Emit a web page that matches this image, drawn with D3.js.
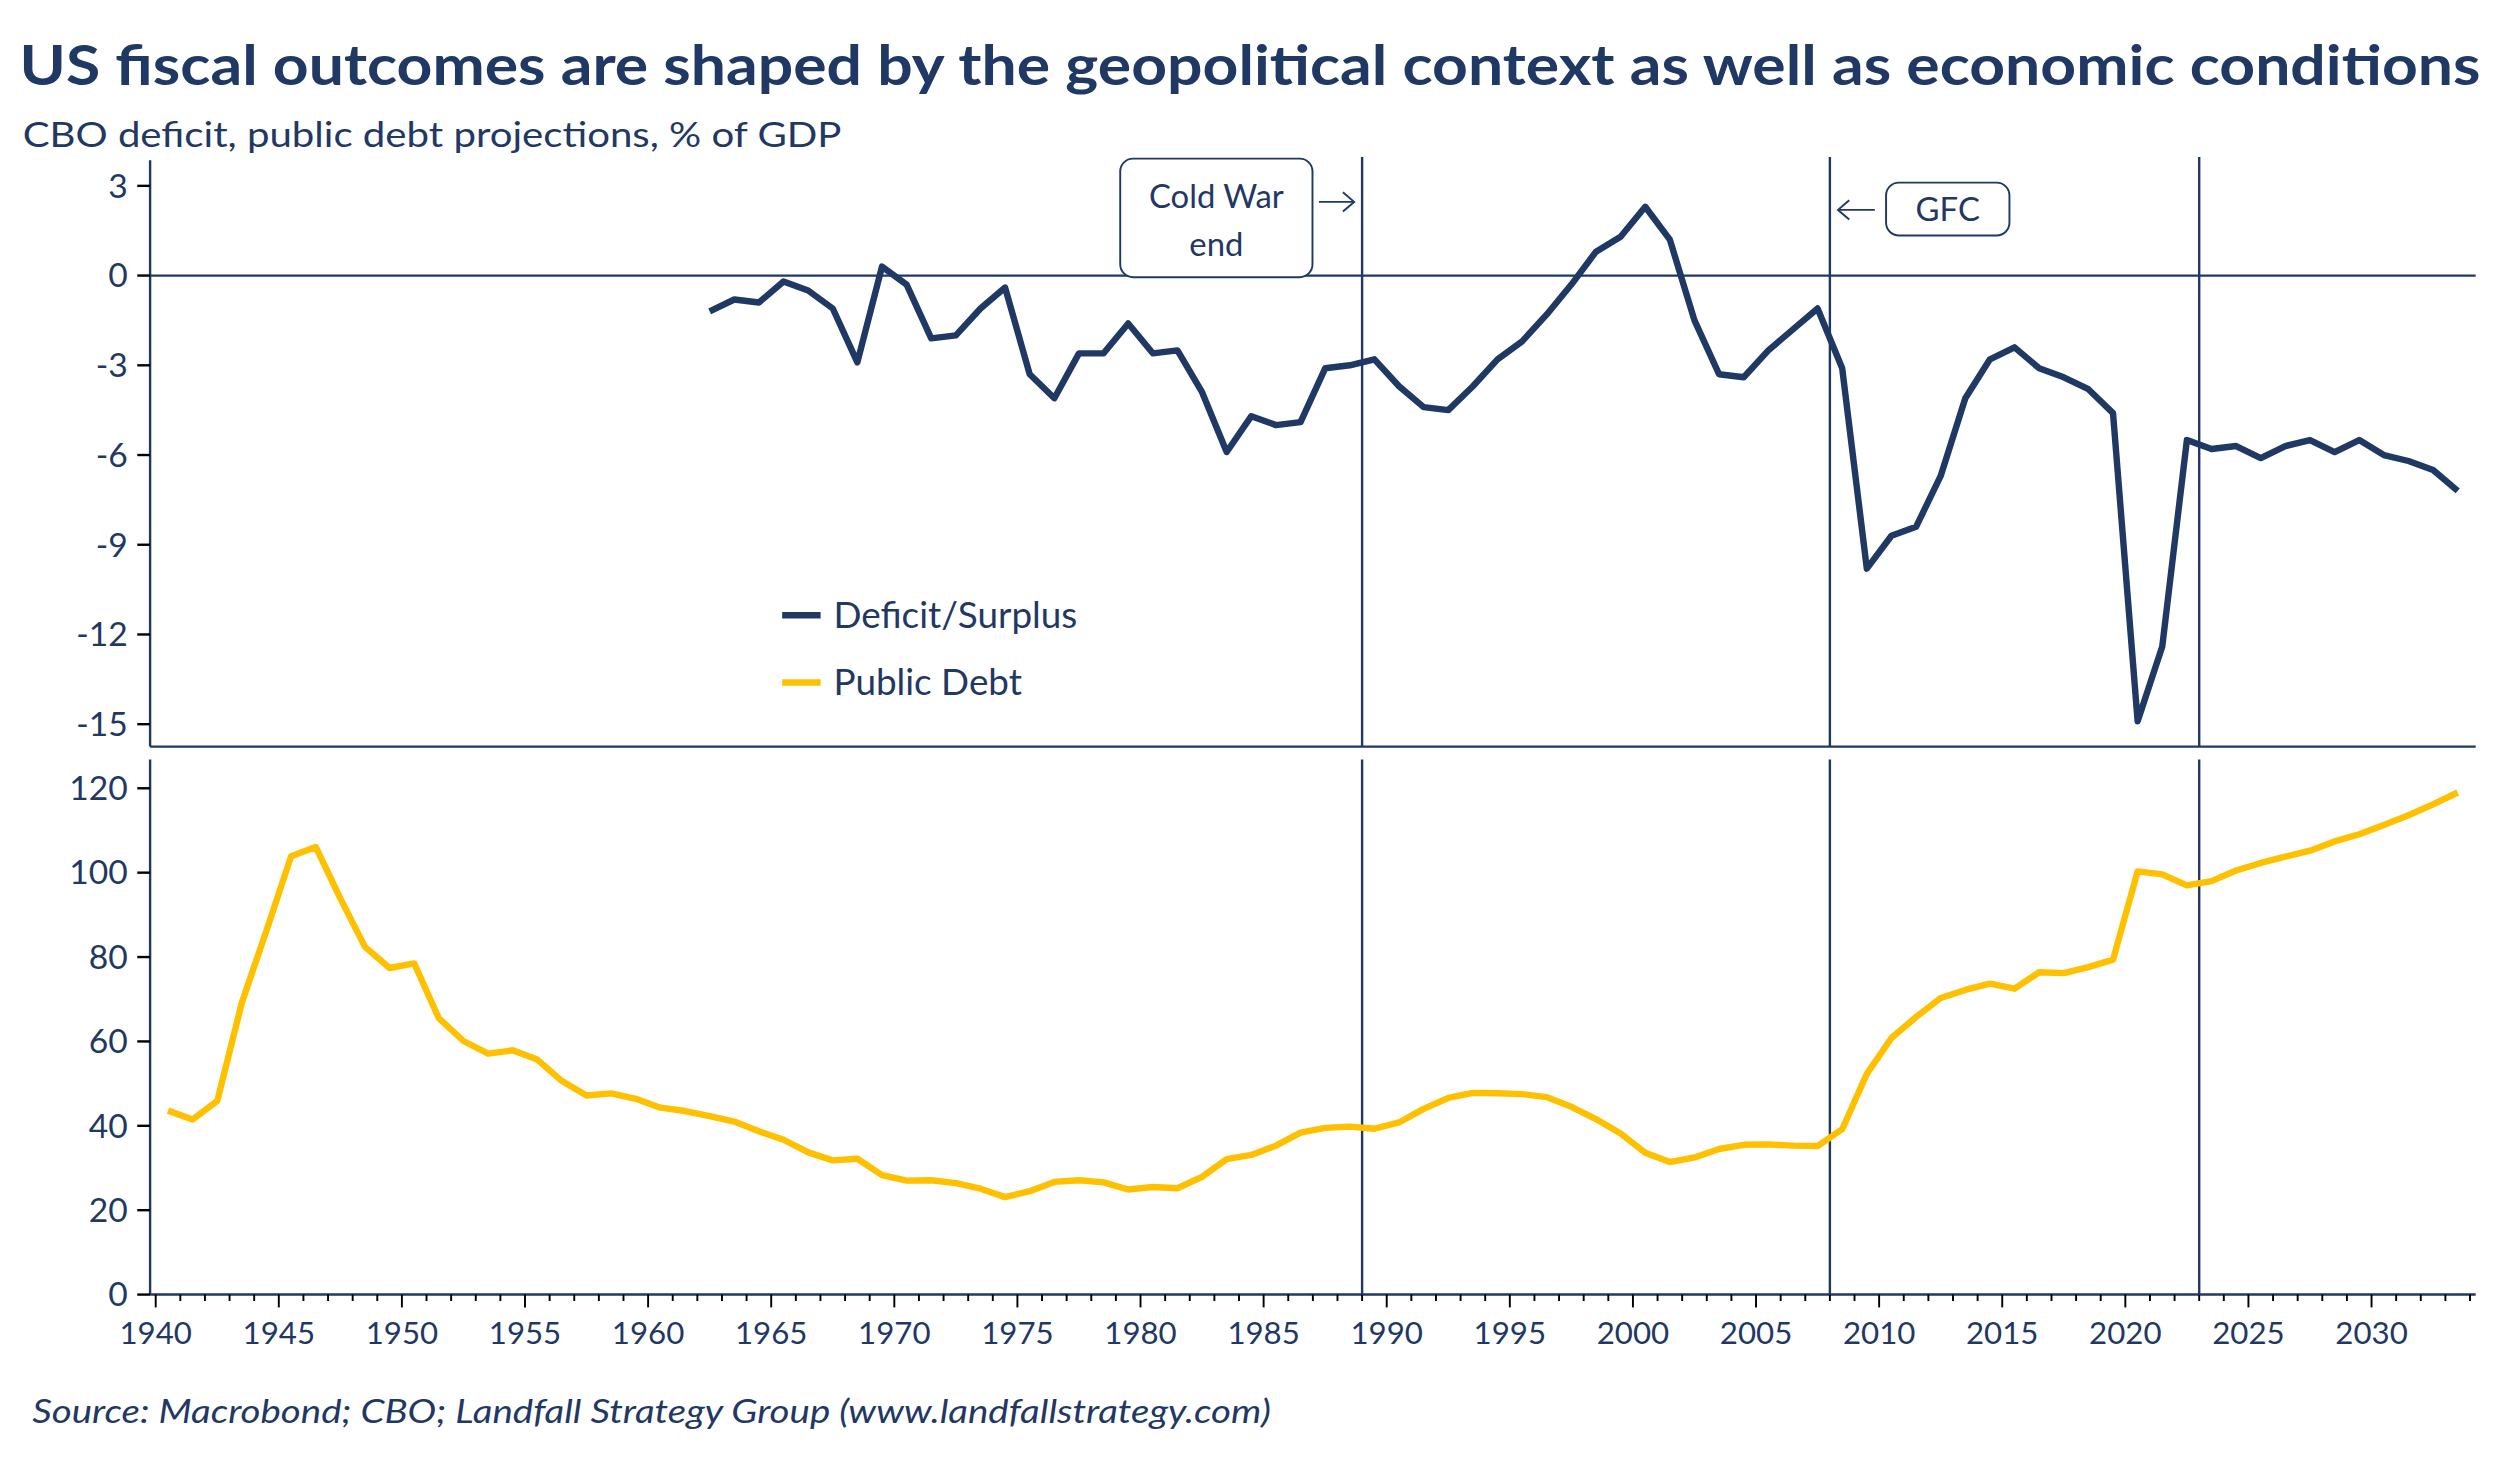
<!DOCTYPE html>
<html><head><meta charset="utf-8">
<script src="https://cdn.jsdelivr.net/npm/d3@7"></script>
<style>body{margin:0;background:#fff}svg{display:block}</style>
</head><body><svg id="c" width="2500" height="1458" viewBox="0 0 1560 910"></svg>
<script>
const deficitYears = d3.range(1962, 2034);
const deficit = [-1.2,-0.8,-0.9,-0.2,-0.5,-1.1,-2.9,0.3,-0.3,-2.1,-2.0,-1.1,-0.4,-3.3,-4.1,-2.6,-2.6,-1.6,-2.6,-2.5,-3.9,-5.9,-4.7,-5.0,-4.9,-3.1,-3.0,-2.8,-3.7,-4.4,-4.5,-3.7,-2.8,-2.2,-1.3,-0.3,0.8,1.3,2.3,1.2,-1.5,-3.3,-3.4,-2.5,-1.8,-1.1,-3.1,-9.8,-8.7,-8.4,-6.7,-4.1,-2.8,-2.4,-3.1,-3.4,-3.8,-4.6,-14.9,-12.4,-5.5,-5.8,-5.7,-6.1,-5.7,-5.5,-5.9,-5.5,-6.0,-6.2,-6.5,-7.2];
const debtYears = d3.range(1940, 2034);
const debt = [43.6,41.5,45.9,69.2,86.3,103.9,106.1,93.9,82.4,77.4,78.5,65.5,60.1,57.1,57.9,55.7,50.6,47.2,47.7,46.4,44.3,43.5,42.3,41.0,38.7,36.7,33.7,31.8,32.2,28.3,27.0,27.1,26.4,25.1,23.1,24.5,26.7,27.1,26.6,24.9,25.5,25.2,27.9,32.1,33.1,35.3,38.4,39.5,39.8,39.3,40.8,44.0,46.6,47.8,47.7,47.5,46.8,44.5,41.6,38.2,33.6,31.4,32.5,34.5,35.5,35.6,35.3,35.2,39.2,52.3,60.8,65.8,70.3,72.2,73.7,72.5,76.4,76.2,77.6,79.4,100.3,99.6,97.0,98.0,100.5,102.3,103.8,105.2,107.4,109.1,111.3,113.6,116.2,119.0];
const topTicks = [3,0,-3,-6,-9,-12,-15];
const botTicks = [0,20,40,60,80,100,120];
const xTicks = d3.range(1940, 2031, 5);
const eventYears = [1989, 2008, 2023];

const navy = "#1f3864", gold = "#ffc000", font = "Lato, sans-serif";
const svg = d3.select("#c").style("font-family", font);
const L = 93.5, R = 1545;
const x = d3.scaleLinear().domain([1940, 2030]).range([97, 1480]);
const yT = d3.scaleLinear().domain([3, -15]).range([116, 452]);
const yB = d3.scaleLinear().domain([0, 120]).range([808, 492]);

svg.append("text").attr("x", 12).attr("y", 53).attr("font-size", 34).attr("font-weight", 700).attr("fill", navy)
  .attr("textLength", 1536).attr("lengthAdjust", "spacingAndGlyphs")
  .text("US fiscal outcomes are shaped by the geopolitical context as well as economic conditions");
svg.append("text").attr("x", 14).attr("y", 92).attr("font-size", 22).attr("fill", navy)
  .attr("textLength", 511).attr("lengthAdjust", "spacingAndGlyphs")
  .text("CBO deficit, public debt projections, % of GDP");

function yAxis(scale, ticks, y0, y1) {
  const g = svg.append("g").attr("transform", `translate(${L},0)`);
  g.append("line").attr("x1", 0).attr("x2", 0).attr("y1", y0).attr("y2", y1).attr("stroke", navy).attr("stroke-width", 1.5);
  ticks.forEach(t => {
    g.append("line").attr("x1", -8).attr("x2", 0).attr("y1", scale(t)).attr("y2", scale(t)).attr("stroke", "#000").attr("stroke-width", 1.5);
    g.append("text").attr("x", -14).attr("y", scale(t)).attr("dy", "0.35em").attr("text-anchor", "end")
      .attr("font-size", 21).attr("fill", navy).text(t);
  });
}
yAxis(yT, topTicks, 100, 466);
yAxis(yB, botTicks, 474, 808);
svg.append("line").attr("x1", L).attr("x2", R).attr("y1", 466).attr("y2", 466).attr("stroke", navy).attr("stroke-width", 1.5);
svg.append("line").attr("x1", L).attr("x2", R).attr("y1", yT(0)).attr("y2", yT(0)).attr("stroke", navy).attr("stroke-width", 1.5);
svg.append("line").attr("x1", L).attr("x2", R).attr("y1", 808).attr("y2", 808).attr("stroke", navy).attr("stroke-width", 1.5);

d3.range(1940, 2035).forEach(yr => {
  const major = yr % 5 === 0;
  svg.append("line").attr("x1", x(yr)).attr("x2", x(yr)).attr("y1", 808).attr("y2", major ? 816 : 812).attr("stroke", "#000").attr("stroke-width", 1.2);
});
xTicks.forEach(t => svg.append("text").attr("x", x(t)).attr("y", 839).attr("text-anchor", "middle").attr("font-size", 19.5).attr("fill", navy).text(t));

eventYears.forEach(yr => {
  svg.append("line").attr("x1", x(yr)).attr("x2", x(yr)).attr("y1", 98).attr("y2", 466).attr("stroke", navy).attr("stroke-width", 1.5);
  svg.append("line").attr("x1", x(yr)).attr("x2", x(yr)).attr("y1", 474).attr("y2", 808).attr("stroke", navy).attr("stroke-width", 1.5);
});

const lnT = d3.line().x((d, i) => x(deficitYears[i] + 0.5)).y(d => yT(d));
const lnB = d3.line().x((d, i) => x(debtYears[i] + 0.5)).y(d => yB(d));
svg.append("path").attr("d", lnT(deficit)).attr("fill", "none").attr("stroke", navy).attr("stroke-width", 4).attr("stroke-linejoin", "round");
svg.append("path").attr("d", lnB(debt)).attr("fill", "none").attr("stroke", gold).attr("stroke-width", 4).attr("stroke-linejoin", "round");

svg.append("rect").attr("x", 699).attr("y", 99).attr("width", 120).attr("height", 74).attr("rx", 8).attr("fill", "#fff").attr("stroke", navy).attr("stroke-width", 1.2);
svg.append("text").attr("x", 759).attr("y", 130).attr("text-anchor", "middle").attr("font-size", 20.5).attr("fill", navy).text("Cold War");
svg.append("text").attr("x", 759).attr("y", 160).attr("text-anchor", "middle").attr("font-size", 20.5).attr("fill", navy).text("end");
svg.append("rect").attr("x", 1177).attr("y", 114).attr("width", 77).attr("height", 33).attr("rx", 8).attr("fill", "#fff").attr("stroke", navy).attr("stroke-width", 1.2);
svg.append("text").attr("x", 1215.5).attr("y", 138).attr("text-anchor", "middle").attr("font-size", 20.5).attr("fill", navy).text("GFC");
function arrow(x1, x2, y) {
  svg.append("line").attr("x1", x1).attr("x2", x2).attr("y1", y).attr("y2", y).attr("stroke", navy).attr("stroke-width", 1.2);
  const d = x2 > x1 ? -7 : 7;
  svg.append("path").attr("d", `M${x2 + d},${y - 6}L${x2},${y}L${x2 + d},${y + 6}`).attr("fill", "none").attr("stroke", navy).attr("stroke-width", 1.2);
}
arrow(823, 845, 126);
arrow(1170, 1147, 131);

[["Deficit/Surplus", navy, 384], ["Public Debt", gold, 426]].forEach(([t, c, y]) => {
  svg.append("line").attr("x1", 488).attr("x2", 512).attr("y1", y).attr("y2", y).attr("stroke", c).attr("stroke-width", 4);
  svg.append("text").attr("x", 520).attr("y", y).attr("dy", "0.35em").attr("font-size", 23).attr("fill", navy).text(t);
});

svg.append("text").attr("x", 20).attr("y", 888).attr("font-size", 20.5).attr("font-style", "italic").attr("fill", navy)
  .attr("textLength", 773).attr("lengthAdjust", "spacingAndGlyphs")
  .text("Source: Macrobond; CBO; Landfall Strategy Group (www.landfallstrategy.com)");
</script></body></html>
